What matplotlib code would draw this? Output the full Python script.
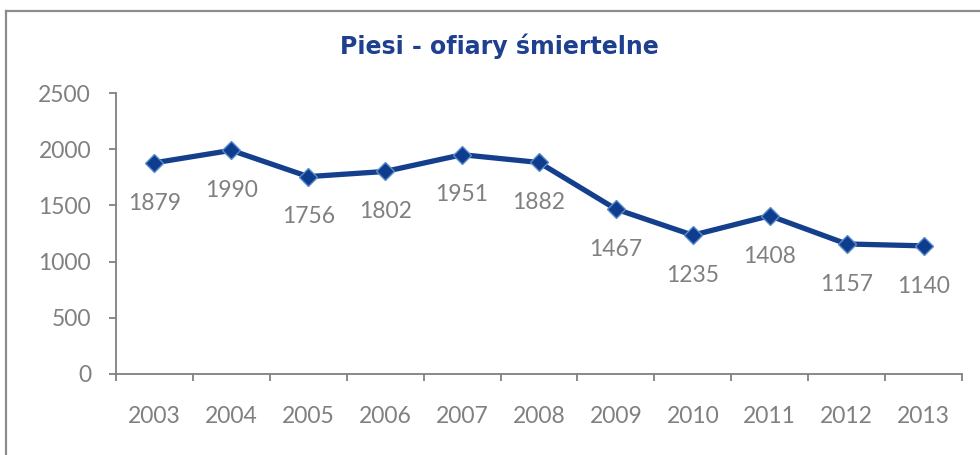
import matplotlib
matplotlib.use("Agg")
import matplotlib.pyplot as plt
from matplotlib.lines import Line2D

years = ["2003", "2004", "2005", "2006", "2007", "2008", "2009", "2010", "2011", "2012", "2013"]
values = [1879, 1990, 1756, 1802, 1951, 1882, 1467, 1235, 1408, 1157, 1140]
yticks = [0, 500, 1000, 1500, 2000, 2500]
title = "Piesi - ofiary śmiertelne"

gray = "#808080"
blue = "#143F8C"
fs = 16.5

fig = plt.figure(figsize=(9.8, 4.55), dpi=100)
ax = fig.add_axes([116/980, 1-374/455, 846/980, 281/455])

x = list(range(len(years)))
ax.plot(x, values, color=blue, lw=3.8, marker="D", ms=9.5,
        mfc="#0E3D8E", mec="#5A8BCB", mew=1.0, zorder=3, clip_on=False)

for xi, v in zip(x, values):
    ax.annotate(str(v), (xi, v), xytext=(0, -29), textcoords="offset points",
                ha="center", va="center", fontsize=fs, color=gray,
                family=["Lato", "DejaVu Sans"])

ax.set_xlim(-0.5, len(years) - 0.5)
ax.set_ylim(0, 2500)
ax.set_yticks(yticks)
ax.set_yticklabels([str(t) for t in yticks])

# major ticks at category boundaries, labels at minor ticks (centres)
ax.set_xticks([i - 0.5 for i in range(len(years) + 1)])
ax.set_xticklabels([])
ax.set_xticks(x, minor=True)
ax.set_xticklabels(years, minor=True)
ax.tick_params(axis="x", which="major", length=5, width=1.3, color=gray, direction="out")
ax.tick_params(axis="x", which="minor", length=0, pad=23, labelsize=fs, labelcolor=gray)
ax.tick_params(axis="y", length=5, width=1.3, color=gray, pad=13, labelsize=fs, labelcolor=gray)
for lab in ax.get_xticklabels(minor=True) + ax.get_yticklabels():
    lab.set_family(["Lato", "DejaVu Sans"])

for s in ["top", "right"]:
    ax.spines[s].set_visible(False)
for s in ["left", "bottom"]:
    ax.spines[s].set_color(gray)
    ax.spines[s].set_linewidth(1.3)

fig.text(499/980, 1-46/455, title, ha="center", va="center", fontsize=17,
         fontweight="bold", color="#1F3F8F", family=["DejaVu Sans"])

# outer frame (top and left visible)
fig.add_artist(Line2D([6/980, 6/980], [-0.01, 1-11/455], transform=fig.transFigure,
                      color="#8C8C8C", lw=1.6))
fig.add_artist(Line2D([6/980, 1.01], [1-11/455, 1-11/455], transform=fig.transFigure,
                      color="#8C8C8C", lw=1.6))

fig.savefig("out.png", dpi=100)
